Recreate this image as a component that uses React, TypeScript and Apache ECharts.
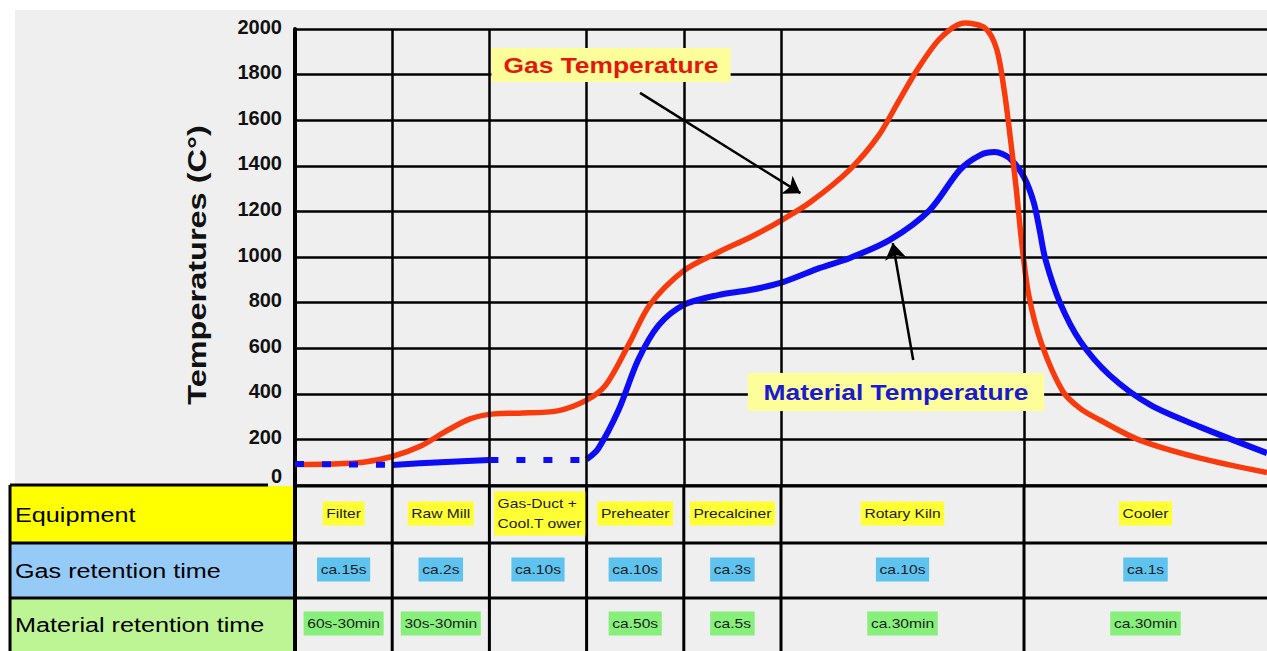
import React, { useEffect, useRef } from 'react';
import * as echarts from 'echarts';

// ---------- data ----------
// x-axis: process position; each small unit is one equipment column, kiln & cooler span 2.5 units
const columnBounds = [0, 1, 2, 3, 4, 5, 7.5, 10];
const equipment = ['Filter', 'Raw Mill', 'Gas-Duct +\nCool.T ower', 'Preheater', 'Precalciner', 'Rotary Kiln', 'Cooler'];
const gasRetention = ['ca.15s', 'ca.2s', 'ca.10s', 'ca.10s', 'ca.3s', 'ca.10s', 'ca.1s'];
const materialRetention = ['60s-30min', '30s-30min', '', 'ca.50s', 'ca.5s', 'ca.30min', 'ca.30min'];
const rowHeaders = ['Equipment', 'Gas retention time', 'Material retention time'];
const yMin = 0;
const yMax = 2000;
const yStep = 200;

const gasTemperature: [number, number][] = [
  [0, 90], [0.35, 92], [0.7, 100], [1.0, 125], [1.3, 172], [1.55, 235], [1.8, 290], [2.05, 312],
  [2.3, 315], [2.7, 325], [3.0, 372], [3.2, 440], [3.45, 630], [3.65, 790], [4.0, 940], [4.35, 1020],
  [4.7, 1090], [5.0, 1160], [5.3, 1240], [5.7, 1380], [6.0, 1530], [6.22, 1690], [6.4, 1820],
  [6.64, 1960], [6.89, 2026], [7.1, 2004], [7.22, 1910], [7.3, 1720], [7.36, 1520], [7.42, 1300],
  [7.48, 1050], [7.55, 830], [7.68, 620], [7.9, 410], [8.08, 335], [8.28, 285], [8.69, 197],
  [9.31, 118], [10, 55],
];

const materialDotted1: [number, number][] = [[0, 92], [1.0, 88]];
const materialSolid1: [number, number][] = [[1.0, 88], [1.5, 100], [2.0, 110]];
const materialDotted2: [number, number][] = [[2.0, 110], [3.0, 110]];
const materialMain: [number, number][] = [
  [3.0, 112], [3.12, 160], [3.33, 330], [3.53, 548], [3.74, 700], [4.0, 790], [4.35, 833],
  [4.68, 855], [5.02, 890], [5.4, 952], [5.71, 996], [6.12, 1075], [6.53, 1206], [6.84, 1382],
  [7.05, 1447], [7.2, 1460], [7.35, 1434], [7.5, 1350], [7.6, 1240], [7.66, 1120], [7.72, 990],
  [7.87, 800], [8.08, 630], [8.38, 482], [8.8, 351], [9.31, 255], [10, 140],
];

// annotation arrows (data coordinates)
const gasArrow: [number, number][] = [[3.55, 1720], [5.2, 1280]];
const materialArrow: [number, number][] = [[6.36, 548], [6.15, 1061]];
const gasLabel = 'Gas Temperature';
const materialLabel = 'Material Temperature';
const yTitle = 'Temperatures (C°)';

// ---------- styles / layout ----------
const FONT = '"Liberation Sans", Arial, Helvetica, sans-serif';
const RED = '#f83a0c';
const BLUE = '#0c0cf5';
const W = 1267;
const H = 651;
const rowLines = [543, 598, 651];
const headerLeft = 10;
const rowColors = ['#ffff00', '#97cbf7', '#bdf595'];
const cellHighlights = ['#ffff33', '#5fc3f0', '#86f07a'];

export default function App() {
  const ref = useRef<HTMLDivElement>(null);
  useEffect(() => {
    document.body.style.margin = '0';
    const chart = echarts.init(ref.current!, null, { renderer: 'svg' });
    const smoothLine = (data: [number, number][], color: string, width: number, z: number) => ({
      type: 'line', data, smooth: 0.3, showSymbol: false, z, clip: false,
      lineStyle: { color, width },
    });
    const dottedLine = (data: [number, number][]) => ({
      type: 'line', data, showSymbol: false, z: 5, clip: false,
      lineStyle: { color: BLUE, width: 6, type: [9, 18], cap: 'butt' },
    });
    chart.setOption({
      animation: false,
      backgroundColor: 'transparent',
      grid: { left: 295, top: 29, right: 0, bottom: H - 485, containLabel: false },
      xAxis: {
        type: 'value', min: columnBounds[0], max: columnBounds[columnBounds.length - 1],
        axisLine: { show: false }, axisTick: { show: false }, axisLabel: { show: false }, splitLine: { show: false },
      },
      yAxis: {
        type: 'value', min: yMin, max: yMax, interval: yStep,
        axisLine: { show: true, lineStyle: { color: '#000', width: 4 } },
        axisTick: { show: false },
        axisLabel: {
          color: '#111', fontSize: 20, fontWeight: 'bold', fontFamily: FONT, margin: 13,
          padding: [0, 0, 5, 0],
          formatter: (v: number) => (v === 0 ? '{z|0}' : String(v)),
          rich: {
            z: { color: '#111', fontSize: 20, fontWeight: 'bold', fontFamily: FONT, padding: [0, 0, 14, 0] },
          },
        },
        splitLine: { show: true, lineStyle: { color: '#000', width: 2.5 } },
      },
      series: [
        {
          type: 'line', data: [], z: 1, silent: true,
          markLine: {
            silent: true, symbol: ['none', 'none'], label: { show: false },
            lineStyle: { color: '#000', width: 2.5, type: 'solid' },
            data: columnBounds.slice(1, -1).map((v) => ({ xAxis: v })),
          },
        },
        smoothLine(materialMain, BLUE, 6, 3),
        smoothLine(materialSolid1, BLUE, 6, 3),
        smoothLine(gasTemperature, RED, 5.5, 4),
        dottedLine(materialDotted1),
        dottedLine(materialDotted2),
        {
          type: 'line', data: [], z: 6, silent: true,
          markLine: {
            silent: true, symbol: ['none', 'arrow'], symbolSize: 16, label: { show: false },
            lineStyle: { color: '#000', width: 2.5, type: 'solid' },
            data: [
              [{ coord: gasArrow[0] }, { coord: gasArrow[1] }],
              [{ coord: materialArrow[0] }, { coord: materialArrow[1] }],
            ],
          },
        },
      ],
    });

    const px = (v: number) => chart.convertToPixel({ xAxisIndex: 0 }, v) as number;
    const py = (v: number) => chart.convertToPixel({ yAxisIndex: 0 }, v) as number;
    const xs = columnBounds.map(px);
    const y0 = py(0);
    const rowTops = [y0 + 1, rowLines[0], rowLines[1]];
    const rowBottoms = rowLines;
    const graphic: any[] = [];

    // header cells
    rowHeaders.forEach((h, r) => {
      graphic.push({
        type: 'rect', z: 10,
        shape: { x: headerLeft, y: rowTops[r], width: xs[0] - headerLeft, height: rowBottoms[r] - rowTops[r] },
        style: { fill: rowColors[r] },
      });
      graphic.push({
        type: 'text', z: 12, x: 15, y: (rowTops[r] + rowBottoms[r]) / 2, scaleX: 1.2,
        style: { text: h, fill: '#000', font: `21px ${FONT}`, align: 'left', verticalAlign: 'middle' },
      });
    });

    // table lines
    const lines: number[][] = [];
    lines.push([headerLeft, y0, 268, y0]);
    lines.push([xs[0], y0 + 1, W, y0 + 1]);
    lines.push([headerLeft, rowLines[0], W, rowLines[0]]);
    lines.push([headerLeft, rowLines[1], W, rowLines[1]]);
    lines.push([headerLeft, y0, headerLeft, H]);
    xs.slice(0, -1).forEach((x) => lines.push([x, y0, x, H]));
    lines.forEach(([x1, y1, x2, y2], i) => {
      graphic.push({
        type: 'line', z: 11,
        shape: { x1, y1, x2, y2 },
        style: { stroke: '#000', lineWidth: i === 5 ? 4 : 3 },
      });
    });

    // cell texts
    const rowsData = [equipment, gasRetention, materialRetention];
    rowsData.forEach((row, r) => {
      row.forEach((t, i) => {
        if (!t) return;
        const cx = (xs[i] + xs[i + 1]) / 2;
        const cy = (rowTops[r] + rowBottoms[r]) / 2;
        const multi = t.includes('\n');
        graphic.push({
          type: 'text', z: 12, x: multi ? cx - 44 : cx, y: cy - 1, scaleX: 1.2,
          style: {
            text: t, fill: '#1c1c1c', font: `13px ${FONT}`,
            align: multi ? 'left' : 'center', verticalAlign: 'middle',
            lineHeight: 20,
            backgroundColor: cellHighlights[r], padding: [2, 3, 2, 3],
          },
        });
      });
    });

    // annotation labels
    graphic.push({
      type: 'text', z: 12, x: 611, y: 65, scaleX: 1.2,
      style: {
        text: gasLabel, fill: '#e3170a', font: `bold 22px ${FONT}`, align: 'center', verticalAlign: 'middle',
        backgroundColor: '#fdfd9a', padding: [6, 10, 6, 10],
      },
    });
    graphic.push({
      type: 'text', z: 12, x: 896, y: 392, scaleX: 1.2,
      style: {
        text: materialLabel, fill: '#1a1ad0', font: `bold 22px ${FONT}`, align: 'center', verticalAlign: 'middle',
        backgroundColor: '#fdfd9a', padding: [8, 13, 8, 13],
      },
    });

    // y-axis title
    graphic.push({
      type: 'text', z: 12, x: 197, y: 265, rotation: Math.PI / 2, scaleX: 1.25,
      style: { text: yTitle, fill: '#111', font: `bold 26px ${FONT}`, align: 'center', verticalAlign: 'middle' },
    });

    chart.setOption({ graphic });
    return () => chart.dispose();
  }, []);

  return (
    <div style={{ position: 'relative', width: W, height: H, background: '#fff', overflow: 'hidden' }}>
      <div style={{ position: 'absolute', left: 15, top: 10, width: W - 15, height: H - 10, background: '#efefef' }} />
      <div ref={ref} style={{ position: 'absolute', left: 0, top: 0, width: W, height: H }} />
    </div>
  );
}
